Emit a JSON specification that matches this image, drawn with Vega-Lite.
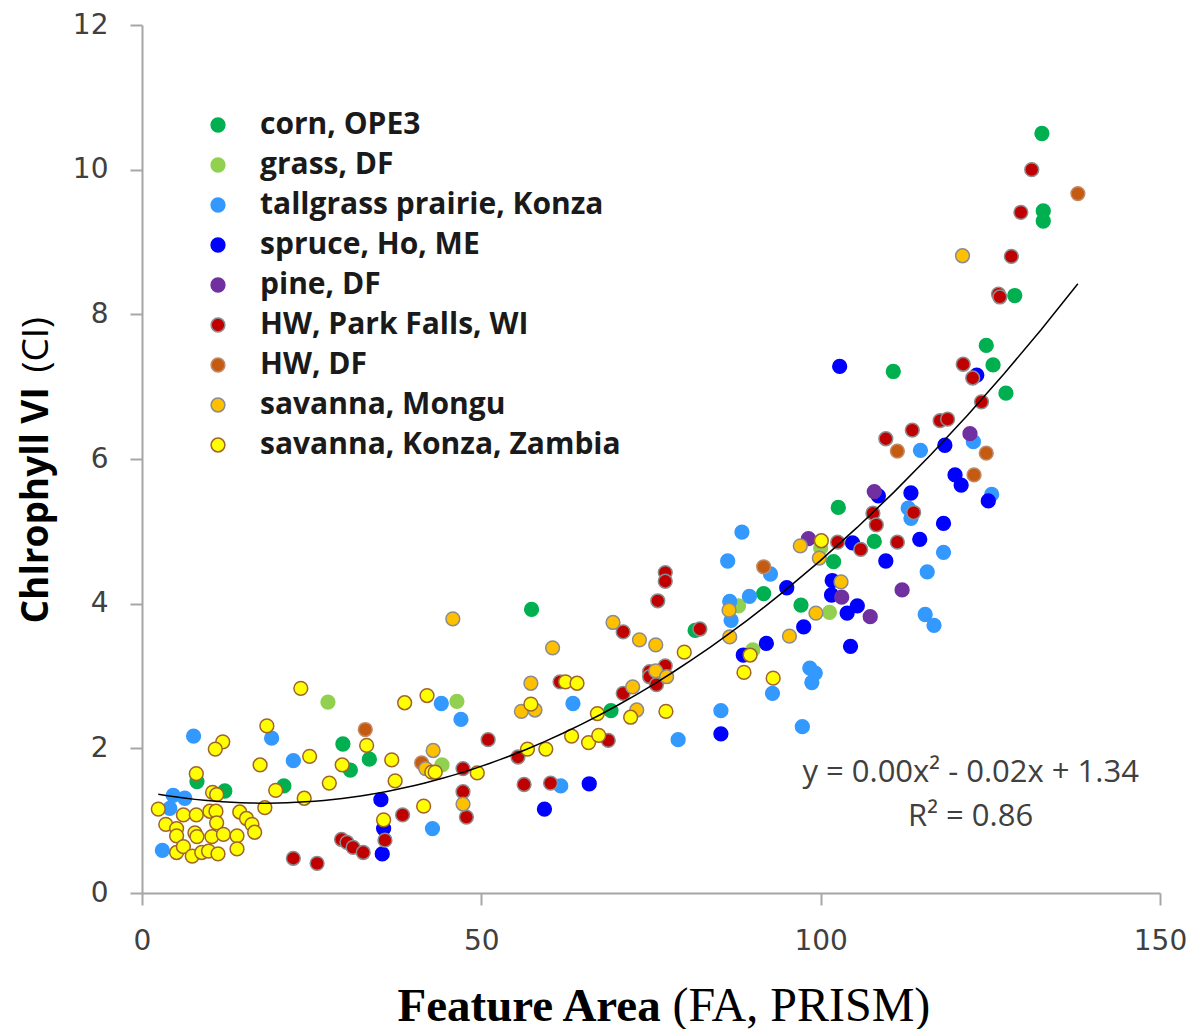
{
  "$schema": "https://vega.github.io/schema/vega-lite/v6.json",
  "width": 1018,
  "height": 868,
  "autosize": "none",
  "padding": {"left": 142, "top": 25, "right": 31, "bottom": 136},
  "background": "white",
  "config": {
    "view": {"stroke": null},
    "axis": {"grid": false, "labelFlush": false, "domainColor": "#A6A6A6", "domainWidth": 2, "tickColor": "#A6A6A6", "tickWidth": 2, "tickSize": 12, "labelFont": "DejaVu Sans", "labelFontSize": 28, "labelColor": "#404040"},
    "legend": {"orient": "none", "legendX": 61, "legendY": 85, "padding": 0, "labelFont": "Open Sans", "labelFontSize": 30, "labelFontWeight": "bold", "labelColor": "#1a1a1a", "symbolSize": 190, "symbolStrokeWidth": 1.5, "symbolType": "circle", "rowPadding": 10, "labelOffset": 27, "labelLimit": 600}
  },
  "datasets": {
    "pts": [
      {"site":"corn, OPE3","fa":8.1,"ci":1.54},{"site":"corn, OPE3","fa":12.2,"ci":1.41},{"site":"corn, OPE3","fa":20.9,"ci":1.48},{"site":"corn, OPE3","fa":29.6,"ci":2.06},{"site":"corn, OPE3","fa":33.5,"ci":1.85},{"site":"corn, OPE3","fa":30.7,"ci":1.70},{"site":"corn, OPE3","fa":57.4,"ci":3.92},{"site":"corn, OPE3","fa":81.5,"ci":3.63},{"site":"corn, OPE3","fa":69.1,"ci":2.52},{"site":"corn, OPE3","fa":91.6,"ci":4.14},{"site":"corn, OPE3","fa":97.1,"ci":3.98},{"site":"corn, OPE3","fa":102.6,"ci":5.33},{"site":"corn, OPE3","fa":107.9,"ci":4.86},{"site":"corn, OPE3","fa":101.9,"ci":4.58},{"site":"corn, OPE3","fa":110.7,"ci":7.21},{"site":"corn, OPE3","fa":124.4,"ci":7.57},{"site":"corn, OPE3","fa":125.4,"ci":7.30},{"site":"corn, OPE3","fa":127.3,"ci":6.91},{"site":"corn, OPE3","fa":128.6,"ci":8.26},{"site":"corn, OPE3","fa":132.6,"ci":10.50},{"site":"corn, OPE3","fa":132.8,"ci":9.43},{"site":"corn, OPE3","fa":132.8,"ci":9.29},
      {"site":"grass, DF","fa":27.4,"ci":2.64},{"site":"grass, DF","fa":46.4,"ci":2.65},{"site":"grass, DF","fa":44.2,"ci":1.77},{"site":"grass, DF","fa":87.9,"ci":3.97},{"site":"grass, DF","fa":90.0,"ci":3.36},{"site":"grass, DF","fa":100.0,"ci":4.77},{"site":"grass, DF","fa":101.3,"ci":3.88},
      {"site":"tallgrass prairie, Konza","fa":7.6,"ci":2.17},{"site":"tallgrass prairie, Konza","fa":19.1,"ci":2.14},{"site":"tallgrass prairie, Konza","fa":22.3,"ci":1.83},{"site":"tallgrass prairie, Konza","fa":4.6,"ci":1.35},{"site":"tallgrass prairie, Konza","fa":6.3,"ci":1.31},{"site":"tallgrass prairie, Konza","fa":4.1,"ci":1.17},{"site":"tallgrass prairie, Konza","fa":3.0,"ci":0.59},{"site":"tallgrass prairie, Konza","fa":44.1,"ci":2.62},{"site":"tallgrass prairie, Konza","fa":47.0,"ci":2.40},{"site":"tallgrass prairie, Konza","fa":42.8,"ci":0.89},{"site":"tallgrass prairie, Konza","fa":61.7,"ci":1.48},{"site":"tallgrass prairie, Konza","fa":63.5,"ci":2.62},{"site":"tallgrass prairie, Konza","fa":79.0,"ci":2.12},{"site":"tallgrass prairie, Konza","fa":85.3,"ci":2.52},{"site":"tallgrass prairie, Konza","fa":88.4,"ci":4.99},{"site":"tallgrass prairie, Konza","fa":86.3,"ci":4.59},{"site":"tallgrass prairie, Konza","fa":92.6,"ci":4.41},{"site":"tallgrass prairie, Konza","fa":89.5,"ci":4.10},{"site":"tallgrass prairie, Konza","fa":86.6,"ci":4.03},{"site":"tallgrass prairie, Konza","fa":86.8,"ci":3.77},{"site":"tallgrass prairie, Konza","fa":92.9,"ci":2.76},{"site":"tallgrass prairie, Konza","fa":97.3,"ci":2.30},{"site":"tallgrass prairie, Konza","fa":98.4,"ci":3.11},{"site":"tallgrass prairie, Konza","fa":99.2,"ci":3.04},{"site":"tallgrass prairie, Konza","fa":98.7,"ci":2.91},{"site":"tallgrass prairie, Konza","fa":114.7,"ci":6.12},{"site":"tallgrass prairie, Konza","fa":122.5,"ci":6.24},{"site":"tallgrass prairie, Konza","fa":125.2,"ci":5.51},{"site":"tallgrass prairie, Konza","fa":112.9,"ci":5.32},{"site":"tallgrass prairie, Konza","fa":113.3,"ci":5.18},{"site":"tallgrass prairie, Konza","fa":118.1,"ci":4.71},{"site":"tallgrass prairie, Konza","fa":115.7,"ci":4.44},{"site":"tallgrass prairie, Konza","fa":115.4,"ci":3.85},{"site":"tallgrass prairie, Konza","fa":116.7,"ci":3.70},
      {"site":"spruce, Ho, ME","fa":35.2,"ci":1.29},{"site":"spruce, Ho, ME","fa":35.6,"ci":0.89},{"site":"spruce, Ho, ME","fa":35.4,"ci":0.54},{"site":"spruce, Ho, ME","fa":59.3,"ci":1.16},{"site":"spruce, Ho, ME","fa":65.9,"ci":1.51},{"site":"spruce, Ho, ME","fa":85.3,"ci":2.20},{"site":"spruce, Ho, ME","fa":95.0,"ci":4.22},{"site":"spruce, Ho, ME","fa":97.5,"ci":3.68},{"site":"spruce, Ho, ME","fa":92.0,"ci":3.45},{"site":"spruce, Ho, ME","fa":88.6,"ci":3.29},{"site":"spruce, Ho, ME","fa":102.8,"ci":7.28},{"site":"spruce, Ho, ME","fa":123.0,"ci":7.16},{"site":"spruce, Ho, ME","fa":118.3,"ci":6.19},{"site":"spruce, Ho, ME","fa":119.8,"ci":5.78},{"site":"spruce, Ho, ME","fa":120.7,"ci":5.64},{"site":"spruce, Ho, ME","fa":124.7,"ci":5.42},{"site":"spruce, Ho, ME","fa":108.5,"ci":5.49},{"site":"spruce, Ho, ME","fa":113.3,"ci":5.53},{"site":"spruce, Ho, ME","fa":118.1,"ci":5.11},{"site":"spruce, Ho, ME","fa":114.6,"ci":4.89},{"site":"spruce, Ho, ME","fa":109.6,"ci":4.59},{"site":"spruce, Ho, ME","fa":104.7,"ci":4.84},{"site":"spruce, Ho, ME","fa":101.7,"ci":4.32},{"site":"spruce, Ho, ME","fa":101.6,"ci":4.12},{"site":"spruce, Ho, ME","fa":105.4,"ci":3.97},{"site":"spruce, Ho, ME","fa":103.9,"ci":3.87},{"site":"spruce, Ho, ME","fa":104.4,"ci":3.41},
      {"site":"pine, DF","fa":98.2,"ci":4.90},{"site":"pine, DF","fa":122.0,"ci":6.35},{"site":"pine, DF","fa":107.9,"ci":5.55},{"site":"pine, DF","fa":103.1,"ci":4.09},{"site":"pine, DF","fa":112.0,"ci":4.19},{"site":"pine, DF","fa":107.3,"ci":3.82},
      {"site":"HW, Park Falls, WI","fa":22.3,"ci":0.48},{"site":"HW, Park Falls, WI","fa":25.8,"ci":0.41},{"site":"HW, Park Falls, WI","fa":51.0,"ci":2.12},{"site":"HW, Park Falls, WI","fa":47.3,"ci":1.72},{"site":"HW, Park Falls, WI","fa":55.4,"ci":1.88},{"site":"HW, Park Falls, WI","fa":56.3,"ci":1.50},{"site":"HW, Park Falls, WI","fa":60.2,"ci":1.52},{"site":"HW, Park Falls, WI","fa":47.3,"ci":1.40},{"site":"HW, Park Falls, WI","fa":47.8,"ci":1.05},{"site":"HW, Park Falls, WI","fa":38.4,"ci":1.08},{"site":"HW, Park Falls, WI","fa":35.8,"ci":0.73},{"site":"HW, Park Falls, WI","fa":29.4,"ci":0.74},{"site":"HW, Park Falls, WI","fa":30.2,"ci":0.70},{"site":"HW, Park Falls, WI","fa":31.1,"ci":0.63},{"site":"HW, Park Falls, WI","fa":32.6,"ci":0.56},{"site":"HW, Park Falls, WI","fa":61.6,"ci":2.92},{"site":"HW, Park Falls, WI","fa":77.1,"ci":4.43},{"site":"HW, Park Falls, WI","fa":77.1,"ci":4.31},{"site":"HW, Park Falls, WI","fa":76.0,"ci":4.04},{"site":"HW, Park Falls, WI","fa":70.9,"ci":3.61},{"site":"HW, Park Falls, WI","fa":82.2,"ci":3.65},{"site":"HW, Park Falls, WI","fa":74.8,"ci":3.06},{"site":"HW, Park Falls, WI","fa":77.1,"ci":3.14},{"site":"HW, Park Falls, WI","fa":74.8,"ci":2.99},{"site":"HW, Park Falls, WI","fa":75.8,"ci":2.88},{"site":"HW, Park Falls, WI","fa":70.9,"ci":2.76},{"site":"HW, Park Falls, WI","fa":68.7,"ci":2.11},{"site":"HW, Park Falls, WI","fa":122.4,"ci":7.12},{"site":"HW, Park Falls, WI","fa":121.0,"ci":7.31},{"site":"HW, Park Falls, WI","fa":123.7,"ci":6.79},{"site":"HW, Park Falls, WI","fa":109.6,"ci":6.28},{"site":"HW, Park Falls, WI","fa":113.5,"ci":6.40},{"site":"HW, Park Falls, WI","fa":117.6,"ci":6.53},{"site":"HW, Park Falls, WI","fa":118.7,"ci":6.55},{"site":"HW, Park Falls, WI","fa":113.7,"ci":5.26},{"site":"HW, Park Falls, WI","fa":107.7,"ci":5.25},{"site":"HW, Park Falls, WI","fa":108.2,"ci":5.09},{"site":"HW, Park Falls, WI","fa":111.3,"ci":4.85},{"site":"HW, Park Falls, WI","fa":102.5,"ci":4.85},{"site":"HW, Park Falls, WI","fa":105.9,"ci":4.75},{"site":"HW, Park Falls, WI","fa":131.1,"ci":10.0},{"site":"HW, Park Falls, WI","fa":129.5,"ci":9.41},{"site":"HW, Park Falls, WI","fa":128.1,"ci":8.80},{"site":"HW, Park Falls, WI","fa":126.2,"ci":8.28},{"site":"HW, Park Falls, WI","fa":126.4,"ci":8.24},
      {"site":"HW, DF","fa":32.9,"ci":2.26},{"site":"HW, DF","fa":41.2,"ci":1.80},{"site":"HW, DF","fa":91.6,"ci":4.51},{"site":"HW, DF","fa":111.3,"ci":6.11},{"site":"HW, DF","fa":124.4,"ci":6.08},{"site":"HW, DF","fa":122.6,"ci":5.78},{"site":"HW, DF","fa":137.9,"ci":9.67},
      {"site":"savanna, Mongu","fa":45.8,"ci":3.79},{"site":"savanna, Mongu","fa":60.5,"ci":3.39},{"site":"savanna, Mongu","fa":57.3,"ci":2.90},{"site":"savanna, Mongu","fa":55.9,"ci":2.51},{"site":"savanna, Mongu","fa":57.9,"ci":2.53},{"site":"savanna, Mongu","fa":42.9,"ci":1.97},{"site":"savanna, Mongu","fa":41.8,"ci":1.72},{"site":"savanna, Mongu","fa":47.3,"ci":1.23},{"site":"savanna, Mongu","fa":69.4,"ci":3.74},{"site":"savanna, Mongu","fa":73.3,"ci":3.50},{"site":"savanna, Mongu","fa":75.7,"ci":3.43},{"site":"savanna, Mongu","fa":86.6,"ci":3.54},{"site":"savanna, Mongu","fa":95.4,"ci":3.55},{"site":"savanna, Mongu","fa":86.5,"ci":3.91},{"site":"savanna, Mongu","fa":97.0,"ci":4.80},{"site":"savanna, Mongu","fa":75.7,"ci":3.07},{"site":"savanna, Mongu","fa":77.3,"ci":2.99},{"site":"savanna, Mongu","fa":72.3,"ci":2.85},{"site":"savanna, Mongu","fa":72.9,"ci":2.53},{"site":"savanna, Mongu","fa":99.8,"ci":4.63},{"site":"savanna, Mongu","fa":103.0,"ci":4.30},{"site":"savanna, Mongu","fa":99.3,"ci":3.87},{"site":"savanna, Mongu","fa":120.9,"ci":8.81},
      {"site":"savanna, Konza, Zambia","fa":23.4,"ci":2.83},{"site":"savanna, Konza, Zambia","fa":18.4,"ci":2.31},{"site":"savanna, Konza, Zambia","fa":11.9,"ci":2.09},{"site":"savanna, Konza, Zambia","fa":10.8,"ci":1.99},{"site":"savanna, Konza, Zambia","fa":17.4,"ci":1.77},{"site":"savanna, Konza, Zambia","fa":24.7,"ci":1.89},{"site":"savanna, Konza, Zambia","fa":8.0,"ci":1.65},{"site":"savanna, Konza, Zambia","fa":10.4,"ci":1.39},{"site":"savanna, Konza, Zambia","fa":11.0,"ci":1.36},{"site":"savanna, Konza, Zambia","fa":19.7,"ci":1.42},{"site":"savanna, Konza, Zambia","fa":23.9,"ci":1.31},{"site":"savanna, Konza, Zambia","fa":27.6,"ci":1.52},{"site":"savanna, Konza, Zambia","fa":2.4,"ci":1.16},{"site":"savanna, Konza, Zambia","fa":6.1,"ci":1.08},{"site":"savanna, Konza, Zambia","fa":8.0,"ci":1.08},{"site":"savanna, Konza, Zambia","fa":10.0,"ci":1.13},{"site":"savanna, Konza, Zambia","fa":10.9,"ci":1.13},{"site":"savanna, Konza, Zambia","fa":14.4,"ci":1.12},{"site":"savanna, Konza, Zambia","fa":18.1,"ci":1.18},{"site":"savanna, Konza, Zambia","fa":3.5,"ci":0.95},{"site":"savanna, Konza, Zambia","fa":5.1,"ci":0.89},{"site":"savanna, Konza, Zambia","fa":11.0,"ci":0.97},{"site":"savanna, Konza, Zambia","fa":15.4,"ci":1.03},{"site":"savanna, Konza, Zambia","fa":16.2,"ci":0.95},{"site":"savanna, Konza, Zambia","fa":16.6,"ci":0.84},{"site":"savanna, Konza, Zambia","fa":5.1,"ci":0.79},{"site":"savanna, Konza, Zambia","fa":7.8,"ci":0.83},{"site":"savanna, Konza, Zambia","fa":8.1,"ci":0.78},{"site":"savanna, Konza, Zambia","fa":10.3,"ci":0.78},{"site":"savanna, Konza, Zambia","fa":12.0,"ci":0.81},{"site":"savanna, Konza, Zambia","fa":14.0,"ci":0.79},{"site":"savanna, Konza, Zambia","fa":14.0,"ci":0.61},{"site":"savanna, Konza, Zambia","fa":5.1,"ci":0.56},{"site":"savanna, Konza, Zambia","fa":6.1,"ci":0.64},{"site":"savanna, Konza, Zambia","fa":7.4,"ci":0.51},{"site":"savanna, Konza, Zambia","fa":8.8,"ci":0.56},{"site":"savanna, Konza, Zambia","fa":9.8,"ci":0.58},{"site":"savanna, Konza, Zambia","fa":11.2,"ci":0.54},{"site":"savanna, Konza, Zambia","fa":38.7,"ci":2.63},{"site":"savanna, Konza, Zambia","fa":42.0,"ci":2.73},{"site":"savanna, Konza, Zambia","fa":33.1,"ci":2.04},{"site":"savanna, Konza, Zambia","fa":29.5,"ci":1.77},{"site":"savanna, Konza, Zambia","fa":36.8,"ci":1.84},{"site":"savanna, Konza, Zambia","fa":37.3,"ci":1.55},{"site":"savanna, Konza, Zambia","fa":42.7,"ci":1.67},{"site":"savanna, Konza, Zambia","fa":43.2,"ci":1.67},{"site":"savanna, Konza, Zambia","fa":49.4,"ci":1.66},{"site":"savanna, Konza, Zambia","fa":56.8,"ci":1.99},{"site":"savanna, Konza, Zambia","fa":59.5,"ci":1.99},{"site":"savanna, Konza, Zambia","fa":41.5,"ci":1.20},{"site":"savanna, Konza, Zambia","fa":35.6,"ci":1.01},{"site":"savanna, Konza, Zambia","fa":62.4,"ci":2.92},{"site":"savanna, Konza, Zambia","fa":57.3,"ci":2.61},{"site":"savanna, Konza, Zambia","fa":64.1,"ci":2.90},{"site":"savanna, Konza, Zambia","fa":79.9,"ci":3.33},{"site":"savanna, Konza, Zambia","fa":89.6,"ci":3.29},{"site":"savanna, Konza, Zambia","fa":88.7,"ci":3.05},{"site":"savanna, Konza, Zambia","fa":93.0,"ci":2.97},{"site":"savanna, Konza, Zambia","fa":67.1,"ci":2.48},{"site":"savanna, Konza, Zambia","fa":72.0,"ci":2.43},{"site":"savanna, Konza, Zambia","fa":77.2,"ci":2.51},{"site":"savanna, Konza, Zambia","fa":63.3,"ci":2.17},{"site":"savanna, Konza, Zambia","fa":65.8,"ci":2.08},{"site":"savanna, Konza, Zambia","fa":67.3,"ci":2.18},{"site":"savanna, Konza, Zambia","fa":100.1,"ci":4.87}
    ],
    "note": [
      {"fa": 122.1, "ci": 1.66, "label": "y = 0.00x² - 0.02x + 1.34"},
      {"fa": 122.1, "ci": 1.05, "label": "R² = 0.86"}
    ]
  },
  "layer": [
    {
      "data": {"name": "pts"},
      "mark": {"type": "circle", "size": 190, "strokeWidth": 1.5, "opacity": 1},
      "encoding": {
        "x": {"field": "fa", "type": "quantitative", "scale": {"domain": [0, 150], "nice": false},
          "axis": {"values": [0, 50, 100, 150], "labelPadding": 22, "title": "Feature Area", "titleFont": "Liberation Serif", "titleFontSize": 47, "titleFontWeight": "bold", "titleColor": "black", "titleAlign": "left", "titleBaseline": "alphabetic", "titleX": 255, "titleY": 127}},
        "y": {"field": "ci", "type": "quantitative", "scale": {"domain": [0, 12], "nice": false},
          "axis": {"values": [0, 2, 4, 6, 8, 10, 12], "labelPadding": 22, "title": "Chlrophyll VI", "titleFont": "Open Sans", "titleFontSize": 37, "titleFontWeight": "bold", "titleColor": "black", "titleAngle": 270, "titleAlign": "left", "titleBaseline": "alphabetic", "titleX": -95, "titleY": 598}},
        "color": {"field": "site", "type": "nominal", "title": null,
          "scale": {"domain": ["corn, OPE3", "grass, DF", "tallgrass prairie, Konza", "spruce, Ho, ME", "pine, DF", "HW, Park Falls, WI", "HW, DF", "savanna, Mongu", "savanna, Konza, Zambia"],
            "range": ["#00B050", "#92D050", "#3399FF", "#0000FF", "#7030A0", "#C00000", "#C55A11", "#FFC000", "#FFFF00"]}},
        "stroke": {"field": "site", "type": "nominal", "title": null,
          "scale": {"domain": ["corn, OPE3", "grass, DF", "tallgrass prairie, Konza", "spruce, Ho, ME", "pine, DF", "HW, Park Falls, WI", "HW, DF", "savanna, Mongu", "savanna, Konza, Zambia"],
            "range": ["#00B050", "#92D050", "#3399FF", "#0000FF", "#7030A0", "#8C8C8C", "#C08A6A", "#8C8C8C", "#A0642A"]}}
      }
    },
    {
      "data": {"name": "pts"},
      "transform": [{"regression": "ci", "on": "fa", "method": "poly", "order": 2}],
      "mark": {"type": "line", "color": "black", "strokeWidth": 1.5},
      "encoding": {
        "x": {"field": "fa", "type": "quantitative", "scale": {"domain": [0, 150], "nice": false},
          "axis": {"orient": "bottom", "labels": false, "ticks": false, "domain": false, "title": "(FA, PRISM)", "titleFont": "Liberation Serif", "titleFontSize": 48, "titleFontWeight": "normal", "titleColor": "black", "titleAlign": "left", "titleBaseline": "alphabetic", "titleX": 530, "titleY": 127}},
        "y": {"field": "ci", "type": "quantitative", "scale": {"domain": [0, 12], "nice": false},
          "axis": {"orient": "left", "labels": false, "ticks": false, "domain": false, "title": "(CI)", "titleFont": "Open Sans", "titleFontSize": 37, "titleFontWeight": "normal", "titleColor": "black", "titleAngle": 270, "titleAlign": "left", "titleBaseline": "alphabetic", "titleX": -95, "titleY": 347}}
      }
    },
    {
      "data": {"name": "note"},
      "mark": {"type": "text", "font": "Open Sans", "fontSize": 31, "color": "#404040", "align": "center", "baseline": "middle"},
      "encoding": {
        "x": {"field": "fa", "type": "quantitative", "axis": null},
        "y": {"field": "ci", "type": "quantitative", "axis": null},
        "text": {"field": "label"}
      }
    }
  ],
  "resolve": {"axis": {"x": "independent", "y": "independent"}}
}
